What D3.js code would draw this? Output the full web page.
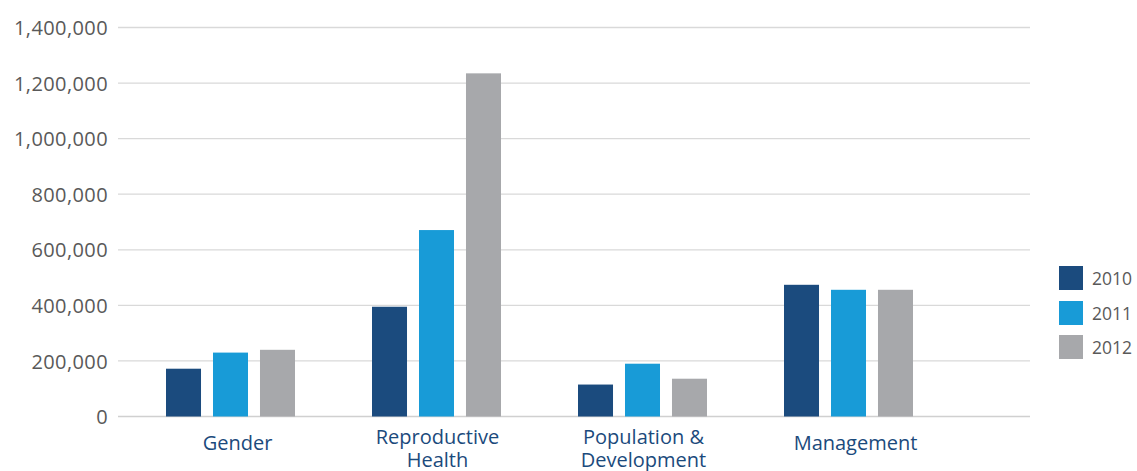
<!DOCTYPE html>
<html>
<head>
<meta charset="utf-8">
<script src="https://cdn.jsdelivr.net/npm/d3@7"></script>
<style>
  body { margin: 0; background: #fff; }
  svg { display: block; font-family: "Open Sans", sans-serif; }
</style>
</head>
<body>
<div id="chart"></div>
<script>
// data
var categories = [["Gender"], ["Reproductive", "Health"], ["Population &", "Development"], ["Management"]];
var years = ["2010", "2011", "2012"];
var v2010 = [172000, 395000, 115000, 474000];
var v2011 = [230000, 671000, 190000, 456000];
var v2012 = [240000, 1235000, 136000, 456000];
var yTicks = [0, 200000, 400000, 600000, 800000, 1000000, 1200000, 1400000];
var colors = ["#1b4b7e", "#189bd7", "#a7a8ab"];

var W = 1137, H = 471;
var series = [v2010, v2011, v2012];

var svg = d3.select("#chart").append("svg")
	.attr("width", W)
	.attr("height", H);

// scales
var y = d3.scaleLinear().domain([0, 1400000]).range([416.5, 27.5]);
var x0 = d3.scaleBand().domain(d3.range(categories.length)).range([127.5, 951.5]);
var x1 = d3.scaleBand().domain(years).range([0, 129]).paddingInner(0.255);

// gridlines
svg.append("g").selectAll("line")
	.data(yTicks)
	.enter().append("line")
	.attr("x1", 118)
	.attr("x2", 1030)
	.attr("y1", function (d) { return y(d); })
	.attr("y2", function (d) { return y(d); })
	.attr("stroke", function (d) { return d === 0 ? "#d0d0d0" : "#d9d9d9"; })
	.attr("stroke-width", 1.3);

// y axis labels
var yAxis = d3.axisLeft(y).tickValues(yTicks).tickFormat(d3.format(",")).tickSize(0).tickPadding(0);
var ga = svg.append("g").attr("transform", "translate(108,0)").call(yAxis);
ga.select(".domain").remove();
ga.selectAll("text")
	.attr("fill", "#595959")
	.style("font-size", "20px")
	.style("font-family", "'Open Sans', sans-serif")
	.style("letter-spacing", "0.4px")
	.attr("dy", "0.36em");

// bars
var groups = svg.append("g").selectAll("g")
	.data(categories)
	.enter().append("g")
	.attr("transform", function (d, i) { return "translate(" + (x0(i) + (x0.bandwidth() - 129) / 2) + ",0)"; });

groups.selectAll("rect")
	.data(function (d, i) { return years.map(function (yr, k) { return { yr: yr, k: k, v: series[k][i] }; }); })
	.enter().append("rect")
	.attr("x", function (d) { return x1(d.yr); })
	.attr("width", x1.bandwidth())
	.attr("y", function (d) { return y(d.v); })
	.attr("height", function (d) { return y(0) - y(d.v); })
	.attr("fill", function (d) { return colors[d.k]; });

// category labels (two-line ones sit a bit higher, like the original)
var labels = svg.append("g").selectAll("text")
	.data(categories)
	.enter().append("text")
	.attr("x", function (d, i) { return x0(i) + x0.bandwidth() / 2 + (d.length > 1 ? 1 : 7); })
	.attr("y", function (d) { return d.length > 1 ? 444 : 450; })
	.attr("text-anchor", "middle")
	.attr("fill", "#1b4a7c")
	.style("font-size", "20px");

labels.selectAll("tspan")
	.data(function (d) { return d; })
	.enter().append("tspan")
	.attr("x", function () { return d3.select(this.parentNode).attr("x"); })
	.attr("dy", function (d, i) { return i === 0 ? 0 : 23; })
	.text(function (d) { return d; });

// legend
var legend = svg.append("g").selectAll("g")
	.data(years)
	.enter().append("g")
	.attr("transform", function (d, i) { return "translate(1059," + [266, 301, 335][i] + ")"; });

legend.append("rect")
	.attr("width", 24)
	.attr("height", 24)
	.attr("fill", function (d, i) { return colors[i]; });

legend.append("text")
	.attr("x", 33)
	.attr("y", 19)
	.attr("fill", "#595959")
	.style("font-size", "17.5px")
	.text(function (d) { return d; });
</script>
</body>
</html>
